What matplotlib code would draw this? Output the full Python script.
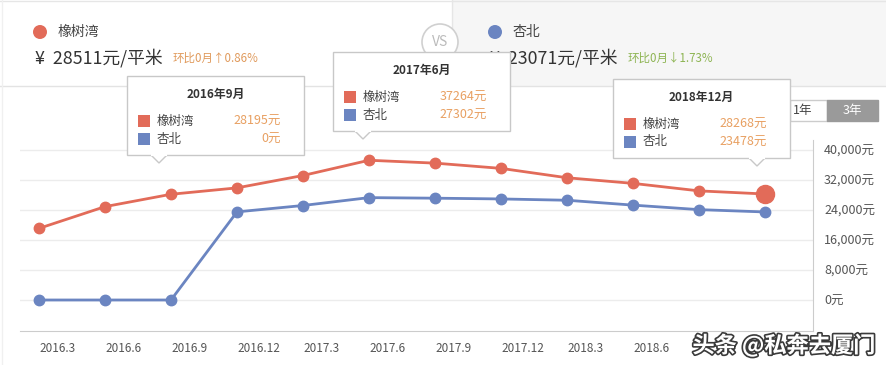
import matplotlib.pyplot as plt
import matplotlib.patheffects as pe
from matplotlib.patches import Rectangle, Circle, Polygon

plt.rcParams['font.family'] = ['Noto Sans CJK SC', 'DejaVu Sans']

# data
quarters = ['2016.3', '2016.6', '2016.9', '2016.12', '2017.3', '2017.6',
            '2017.9', '2017.12', '2018.3', '2018.6', '2018.9', '2018.12']
tip_titles = ['2016年3月', '2016年6月', '2016年9月', '2016年12月', '2017年3月', '2017年6月',
              '2017年9月', '2017年12月', '2018年3月', '2018年6月', '2018年9月', '2018年12月']
xiangshuwan = [19100, 24900, 28195, 29900, 33200, 37264, 36500, 35100, 32600, 31100, 29100, 28268]
xingbei = [0, 0, 0, 23500, 25200, 27302, 27150, 26950, 26600, 25300, 24100, 23478]
yticks = [0, 8000, 16000, 24000, 32000, 40000]
names = ['橡树湾', '杏北']
price_now = [28511, 23071]
mom_text = ['环比0月↑0.86%', '环比0月↓1.73%']
tip_index = [2, 5, 11]
n_hidden = 2  # last quarter labels sit under the watermark

RED = '#e26b59'
BLUE = '#6b85c1'
W, H = 886, 365

fig = plt.figure(figsize=(W / 100, H / 100), dpi=100)
fig.patch.set_facecolor('white')

# background layer, pixel coords with origin top-left
bg = fig.add_axes([0, 0, 1, 1], zorder=0)
bg.set_xlim(0, W)
bg.set_ylim(H, 0)
bg.axis('off')
bg.add_patch(Rectangle((452, 0), W - 452, 86, facecolor='#f6f6f6', edgecolor='none'))
bg.plot([452, 452], [0, 86], color='#e6e6e6', lw=1)
bg.plot([0, W], [86, 86], color='#e3e3e3', lw=1)
bg.plot([0, W], [0.5, 0.5], color='#e6e6e6', lw=1)
bg.plot([2, 2], [0, H], color='#f0f0f0', lw=1)

# chart
x0, x1 = 20, 813
ytop, ybot = 140, 331
ax = fig.add_axes([x0 / W, 1 - ybot / H, (x1 - x0) / W, (ybot - ytop) / H], zorder=1)
ax.set_facecolor('none')
xs = list(range(len(quarters)))
ax.set_xlim((x0 - 39) / 66, (x1 - 39) / 66)
ax.set_ylim((300 - ybot) / 30 * 8000, (300 - ytop) / 30 * 8000)
for v in yticks:
    ax.axhline(v, color='#ececec', lw=1, zorder=0)
ax.plot(xs, xiangshuwan, color=RED, lw=2, marker='o', ms=7.5, mec=RED, zorder=3)
ax.plot(xs, xingbei, color=BLUE, lw=2, marker='o', ms=7.5, mec=BLUE, zorder=3)
ax.plot(xs[-1], xiangshuwan[-1], 'o', color=RED, ms=13, zorder=4)

ax.yaxis.tick_right()
ax.set_yticks(yticks)
ax.set_yticklabels([f'{v:,}元' for v in yticks], fontsize=9, color='#555')
ax.tick_params(axis='y', length=0, pad=8)
ax.set_xticks(xs)
shown = quarters[:len(quarters) - n_hidden] + [''] * n_hidden
ax.set_xticklabels(shown, fontsize=8.5, color='#555', ha='left')
ax.tick_params(axis='x', length=0, pad=8)
for s in ['left', 'top']:
    ax.spines[s].set_visible(False)
for s in ['right', 'bottom']:
    ax.spines[s].set_color('#cccccc')

# foreground layer
fg = fig.add_axes([0, 0, 1, 1], zorder=3)
fg.set_facecolor('none')
fg.set_xlim(0, W)
fg.set_ylim(H, 0)
fg.axis('off')

# header
for cx, col, name, price, mom, mcol in [(40, RED, names[0], price_now[0], mom_text[0], '#e09a5c'),
                                        (495, BLUE, names[1], price_now[1], mom_text[1], '#8db452')]:
    fg.add_patch(Circle((cx, 32), 7, facecolor=col, edgecolor='none'))
    fg.text(cx + 18, 32, name, fontsize=10, color='#444', va='center')
    fg.text(cx - 5, 58, f'¥  {price}元/平米', fontsize=12.8, color='#333', va='center')
    fg.text(cx + 133, 58, mom, fontsize=8.3, color=mcol, va='center')

fg.add_patch(Circle((440, 42), 18, facecolor='white', edgecolor='#d0d0d0', lw=1.2))
fg.text(440, 42, 'VS', fontsize=10, color='#bbbbbb', ha='center', va='center')

# period buttons
fg.add_patch(Rectangle((790, 100), 37, 21, facecolor='white', edgecolor='#cccccc', lw=1))
fg.text(793, 110.5, '1年', fontsize=9, color='#444', va='center')
fg.add_patch(Rectangle((827, 100), 51, 21, facecolor='#9a9a9a', edgecolor='#9a9a9a', lw=1))
fg.text(852.5, 110.5, '3年', fontsize=9, color='white', ha='center', va='center')


def tooltip(bx, by, px, i):
    w, h = 177, 79
    fg.add_patch(Rectangle((bx, by), w, h, facecolor='white', edgecolor='#c8c8c8', lw=1, zorder=5))
    fg.add_patch(Polygon([(px - 8, by + h), (px, by + h + 8), (px + 8, by + h)],
                         closed=False, facecolor='white', edgecolor='#c8c8c8', lw=1, zorder=6))
    fg.plot([px - 7, px + 7], [by + h, by + h], color='white', lw=1.5, zorder=7)
    fg.text(bx + w / 2, by + 18, tip_titles[i], fontsize=8.5, fontweight='bold', color='#333',
            ha='center', va='center', zorder=8)
    for k, (col, name, vals) in enumerate([(RED, names[0], xiangshuwan), (BLUE, names[1], xingbei)]):
        yy = by + 45 + 18 * k
        fg.add_patch(Rectangle((bx + 11, yy - 6), 12, 12, facecolor=col, edgecolor='none', zorder=8))
        fg.text(bx + 30, yy, name, fontsize=9, color='#444', va='center', zorder=8)
        fg.text(bx + 154, yy, f'{vals[i]}元', fontsize=9, color='#e8a062', ha='right', va='center', zorder=8)


tooltip(127, 76, 159, tip_index[0])
tooltip(333, 52, 363, tip_index[1])
tooltip(613, 79, 757, tip_index[2])

# watermark
fg.text(784, 346, '头条 @私奔去厦门', fontsize=16, fontweight='bold', color='white',
        ha='center', va='center', zorder=9,
        path_effects=[pe.withStroke(linewidth=2.4, foreground='#3a3a3a')])

fig.savefig('out.png', dpi=100)
